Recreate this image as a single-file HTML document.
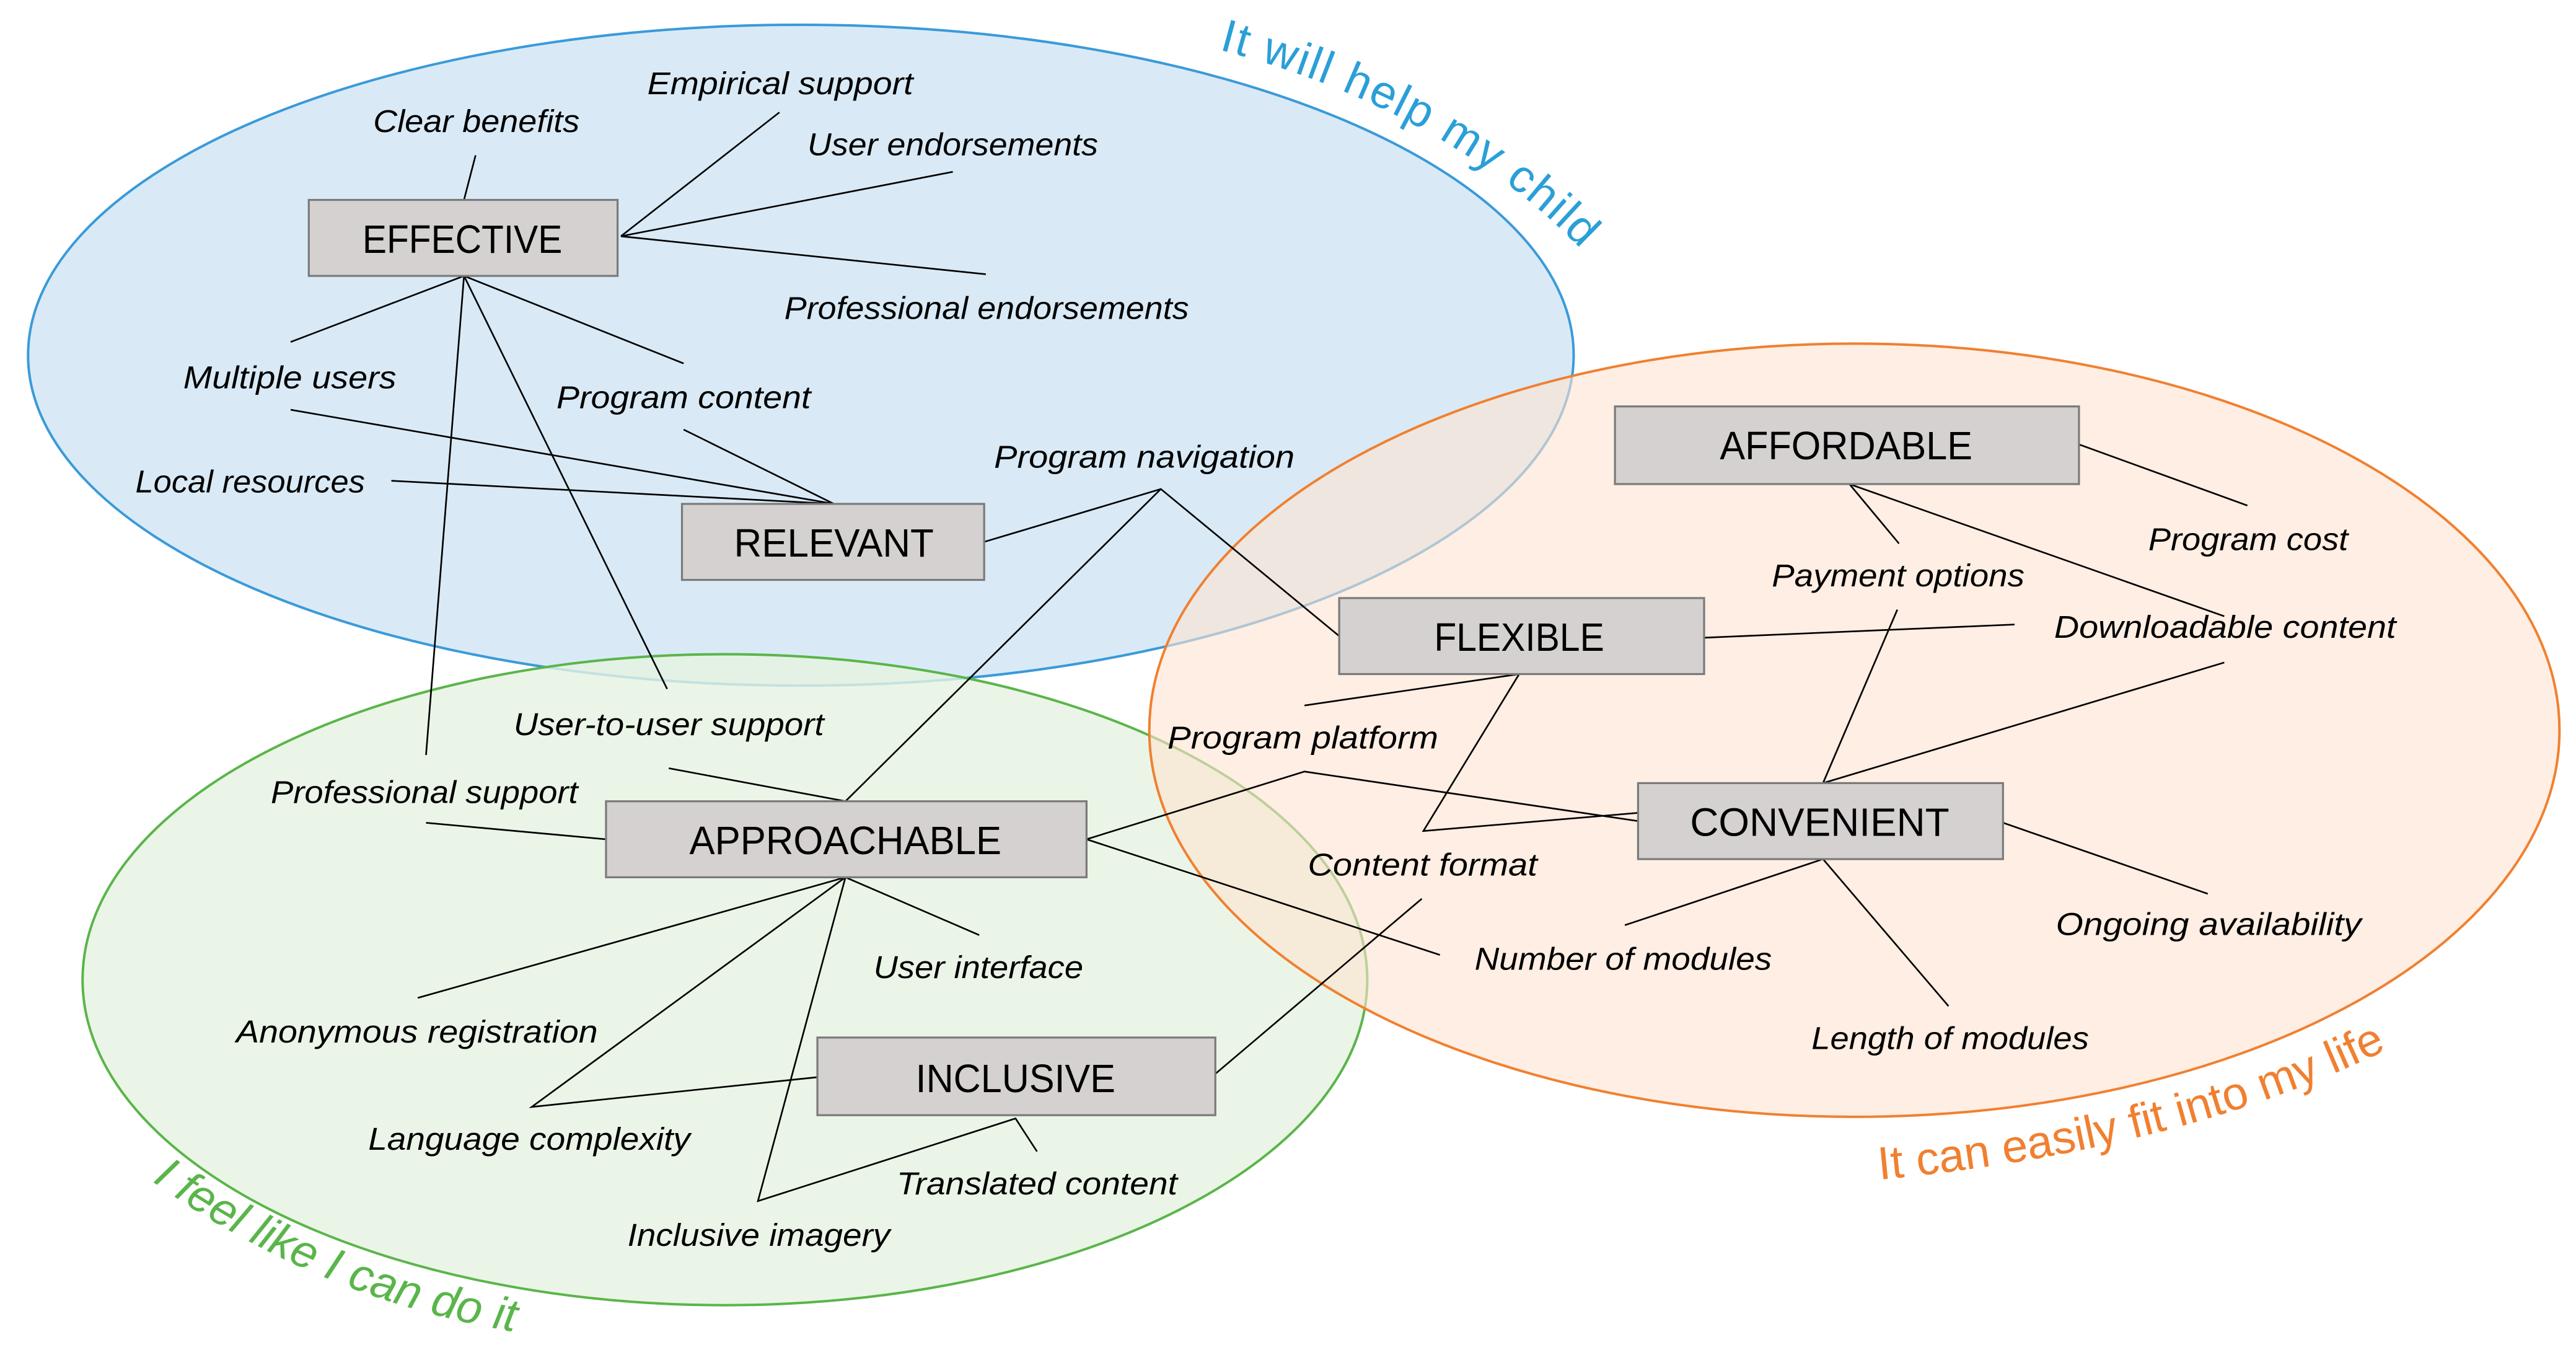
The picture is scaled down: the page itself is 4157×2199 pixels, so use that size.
<!DOCTYPE html>
<html><head><meta charset="utf-8"><style>
html,body{margin:0;padding:0;background:#fff;}
svg{display:block;}
text{font-family:"Liberation Sans",sans-serif;}
.l{font-size:19px;font-style:italic;fill:#000;}
.b{font-size:24px;fill:#000;}
</style></head><body>
<svg width="4157" height="2199" viewBox="0 0 1560 825" preserveAspectRatio="none" xmlns="http://www.w3.org/2000/svg">
<rect width="1560" height="825" fill="#fff"/>
<ellipse cx="485" cy="215" rx="468" ry="200" fill="#d9eaf6" stroke="#3a9ad9" stroke-width="1.5"/>
<ellipse cx="439" cy="593" rx="389" ry="197" fill="#e6f3e1" fill-opacity="0.8" stroke="#5ab54a" stroke-width="1.5"/>
<ellipse cx="1123" cy="442" rx="427" ry="234" fill="#fde2d0" fill-opacity="0.6" stroke="#f08030" stroke-width="1.5"/>

<g stroke="#000" stroke-width="1" fill="none">
<path d="M288 94L281 121"/>
<path d="M472 68L376 143M577 104L376 143M376 143L597 166"/>
<path d="M281 167L176 207M281 167L414 220M281 167L404 417M281 167L258 457"/>
<path d="M176 248L505 305M414 260L505 305M237 291L505 305"/>
<path d="M596 328L703 296L811 385M703 296L512 485"/>
<path d="M405 465L512 485M258 498L367 508"/>
<path d="M658 508L790 467L992 497M658 508L872 578"/>
<path d="M512 531L253 604M512 531L593 566M512 531L322 670L495 652M512 531L459 727L615 677L628 697"/>
<path d="M736 650L861 544"/>
<path d="M920 408L862 503L992 492M920 408L790 427M1032 386L1220 378"/>
<path d="M1259 269L1361 306M1120 293L1150 329M1120 293L1347 373"/>
<path d="M1104 474L1149 369M1104 474L1347 401"/>
<path d="M1213 498L1337 541M1104 520L984 560M1104 520L1180 609"/>
</g>

<g fill="#d4d1d0" stroke="#7a7a7a" stroke-width="1.2">
<rect x="187" y="121" width="187" height="46"/>
<rect x="413" y="305" width="183" height="46"/>
<rect x="978" y="246" width="281" height="47"/>
<rect x="811" y="362" width="221" height="46"/>
<rect x="992" y="474" width="221" height="46"/>
<rect x="367" y="485" width="291" height="46"/>
<rect x="495" y="628" width="241" height="47"/>
</g>
<g class="b" text-anchor="middle">
<text x="280" y="153" textLength="121" lengthAdjust="spacingAndGlyphs">EFFECTIVE</text>
<text x="505" y="337" textLength="121" lengthAdjust="spacingAndGlyphs">RELEVANT</text>
<text x="1118" y="278" textLength="153" lengthAdjust="spacingAndGlyphs">AFFORDABLE</text>
<text x="920" y="394" textLength="103" lengthAdjust="spacingAndGlyphs">FLEXIBLE</text>
<text x="1102" y="506" textLength="157" lengthAdjust="spacingAndGlyphs">CONVENIENT</text>
<text x="512" y="517" textLength="189" lengthAdjust="spacingAndGlyphs">APPROACHABLE</text>
<text x="615" y="661" textLength="121" lengthAdjust="spacingAndGlyphs">INCLUSIVE</text>
</g>
<g class="l">
<text x="226" y="80" textLength="125" lengthAdjust="spacingAndGlyphs">Clear benefits</text>
<text x="392" y="57" textLength="161" lengthAdjust="spacingAndGlyphs">Empirical support</text>
<text x="489" y="94" textLength="176" lengthAdjust="spacingAndGlyphs">User endorsements</text>
<text x="475" y="193" textLength="245" lengthAdjust="spacingAndGlyphs">Professional endorsements</text>
<text x="111" y="235" textLength="129" lengthAdjust="spacingAndGlyphs">Multiple users</text>
<text x="337" y="247" textLength="154" lengthAdjust="spacingAndGlyphs">Program content</text>
<text x="82" y="298" textLength="139" lengthAdjust="spacingAndGlyphs">Local resources</text>
<text x="602" y="283" textLength="182" lengthAdjust="spacingAndGlyphs">Program navigation</text>
<text x="1073" y="355" textLength="153" lengthAdjust="spacingAndGlyphs">Payment options</text>
<text x="1301" y="333" textLength="121" lengthAdjust="spacingAndGlyphs">Program cost</text>
<text x="1244" y="386" textLength="207" lengthAdjust="spacingAndGlyphs">Downloadable content</text>
<text x="707" y="453" textLength="164" lengthAdjust="spacingAndGlyphs">Program platform</text>
<text x="792" y="530" textLength="139" lengthAdjust="spacingAndGlyphs">Content format</text>
<text x="1245" y="566" textLength="185" lengthAdjust="spacingAndGlyphs">Ongoing availability</text>
<text x="893" y="587" textLength="180" lengthAdjust="spacingAndGlyphs">Number of modules</text>
<text x="1097" y="635" textLength="168" lengthAdjust="spacingAndGlyphs">Length of modules</text>
<text x="311" y="445" textLength="188" lengthAdjust="spacingAndGlyphs">User-to-user support</text>
<text x="164" y="486" textLength="186" lengthAdjust="spacingAndGlyphs">Professional support</text>
<text x="529" y="592" textLength="127" lengthAdjust="spacingAndGlyphs">User interface</text>
<text x="143" y="631" textLength="219" lengthAdjust="spacingAndGlyphs">Anonymous registration</text>
<text x="223" y="696" textLength="195" lengthAdjust="spacingAndGlyphs">Language complexity</text>
<text x="543" y="723" textLength="170" lengthAdjust="spacingAndGlyphs">Translated content</text>
<text x="380" y="754" textLength="159" lengthAdjust="spacingAndGlyphs">Inclusive imagery</text>
</g>
<defs>
<path id="p1" d="M738 30 Q 890 70 975 170"/>
<path id="p2" d="M1138 714 Q 1340 695 1475 620"/>
<path id="p3" d="M92 715 Q 205 795 340 810"/>
</defs>
<text font-size="28" fill="#2a9fd8" letter-spacing="1"><textPath href="#p1">It will help my child</textPath></text>
<text font-size="28" fill="#f08030"><textPath href="#p2">It can easily fit into my life</textPath></text>
<text font-size="28" font-style="italic" fill="#5ab54a"><textPath href="#p3">I feel like I can do it</textPath></text>
</svg>
</body></html>
